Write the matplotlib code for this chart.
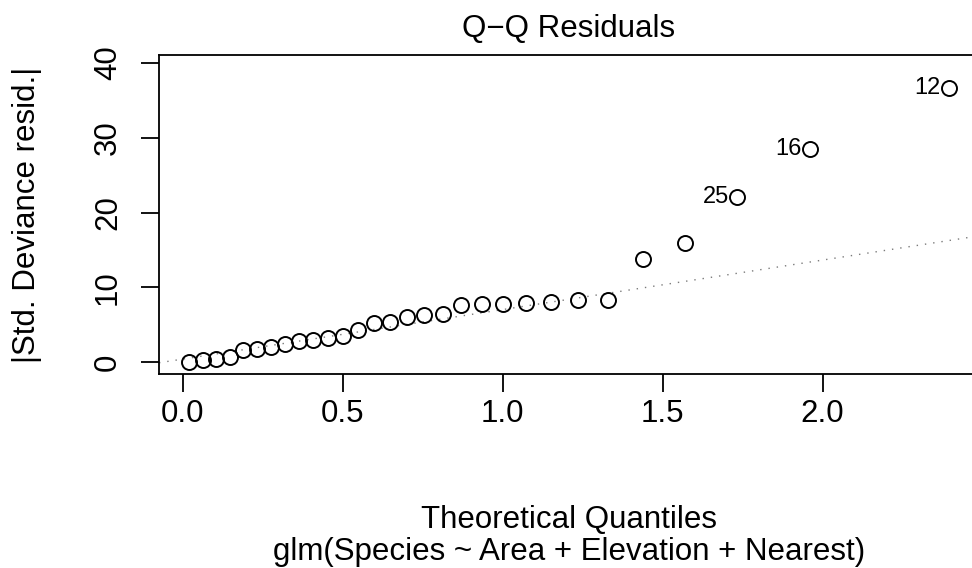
import matplotlib
matplotlib.use('Agg')
import matplotlib.pyplot as plt

plt.rcParams['font.family'] = ['Liberation Sans', 'DejaVu Sans']

# half-normal theoretical quantiles (x) and |std. deviance residuals| (y)
theoretical_q = [0.0209, 0.0627, 0.1046, 0.1467, 0.1891, 0.2319, 0.2750, 0.3186, 0.3628, 0.4077,
                 0.4538, 0.5009, 0.5485, 0.5978, 0.6489, 0.7010, 0.7554, 0.8122, 0.8712, 0.9346,
                 1.0015, 1.0724, 1.1503, 1.2359, 1.3309, 1.4395, 1.5690, 1.7317, 1.9600, 2.3940]
abs_resid = [0.05, 0.27, 0.49, 0.71, 1.60, 1.78, 2.10, 2.45, 2.85, 3.04,
             3.30, 3.55, 4.37, 5.26, 5.40, 6.06, 6.29, 6.42, 7.63, 7.76,
             7.85, 7.99, 8.07, 8.30, 8.39, 13.74, 15.88, 22.10, 28.45, 36.60]

# labelled observations (index into the arrays above) and their ids
label_idx = [27, 28, 29]
label_text = ['25', '16', '12']

# reference (qqline) through the quartiles
ref_intercept = 0.44
ref_slope = 6.61

x_ticks = [0.0, 0.5, 1.0, 1.5, 2.0]
x_tick_labels = ['0.0', '0.5', '1.0', '1.5', '2.0']
y_ticks = [0, 10, 20, 30, 40]

W, H = 972, 568
fig = plt.figure(figsize=(W / 100, H / 100), dpi=100)

# plot region in pixels: left 159, right 979 (clipped by image), top 55, bottom 374
left, right, top, bottom = 159, 979, 55.3, 374
ax = fig.add_axes([left / W, 1 - bottom / H, (right - left) / W, (bottom - top) / H])

ax.axline((0, ref_intercept), slope=ref_slope, color='#7a7a7a', lw=1.0,
          linestyle=(0, (1, 5)), zorder=1)
ax.plot(theoretical_q, abs_resid, linestyle='none', marker='o', markersize=10.8,
        markerfacecolor='none', markeredgecolor='black', markeredgewidth=1.4, zorder=2)

for i, txt in zip(label_idx, label_text):
    ax.annotate(txt, (theoretical_q[i], abs_resid[i]), xytext=(-8, 0),
                textcoords='offset pixels', ha='right', va='center', fontsize=17)

ax.set_xlim(-0.074, 2.489)
ax.set_ylim(-1.55, 41.0)

ax.set_xticks(x_ticks)
ax.set_xticklabels(x_tick_labels)
ax.set_yticks(y_ticks)
ax.set_yticklabels([str(v) for v in y_ticks], rotation=90, va='center')

ax.tick_params(axis='both', length=13, width=1.3, labelsize=22.5, direction='out')
ax.tick_params(axis='x', pad=5)
ax.tick_params(axis='y', pad=13)
for s in ax.spines.values():
    s.set_linewidth(1.3)

cx = (left + right) / 2 / W
fig.text(cx, 1 - 37 / H, 'Q\u2212Q Residuals', ha='center', va='baseline', fontsize=22.5)
fig.text(cx, 1 - 528 / H, 'Theoretical Quantiles', ha='center', va='baseline', fontsize=22.5)
fig.text(cx, 1 - 560 / H, 'glm(Species ~ Area + Elevation + Nearest)', ha='center',
         va='baseline', fontsize=22.5)
fig.text(42 / W, 1 - (top + bottom) / 2 / H, '|Std. Deviance resid.|', rotation=90,
         ha='right', va='center', fontsize=22.5)

fig.savefig('out.png', dpi=100)
